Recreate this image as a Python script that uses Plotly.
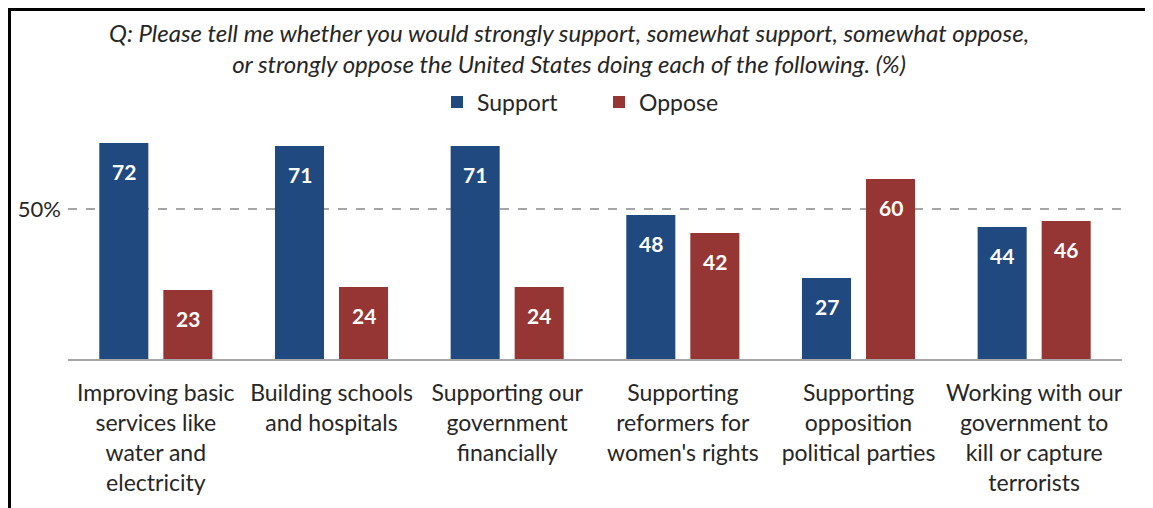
import plotly.graph_objects as go

categories = [
    "Improving basic<br>services like<br>water and<br>electricity",
    "Building schools<br>and hospitals",
    "Supporting our<br>government<br>financially",
    "Supporting<br>reformers for<br>women's rights",
    "Supporting<br>opposition<br>political parties",
    "Working with our<br>government to<br>kill or capture<br>terrorists",
]
support = [72, 71, 71, 48, 27, 44]
oppose = [23, 24, 24, 42, 60, 46]
series_names = ["Support", "Oppose"]
y_tick_vals = [50]
y_tick_text = ["50%"]
title_text = ("<i>Q: Please tell me whether you would strongly support, somewhat support, somewhat oppose,"
              "<br>or strongly oppose the United States doing each of the following. (%)</i>")

BLUE = "#204a7f"
RED = "#963634"
FONT = "Lato"
TXT = "#262626"

# The page keeps the browser's default 8px body margin, so the figure is 8px smaller
OFF = 8
W, H = 1153 - OFF, 508 - OFF
ML, MR, MT, MB = 68 - OFF, 31, 131 - OFF, 149
PW = W - ML - MR
PH = H - MT - MB

fig = go.Figure()
fig.add_trace(go.Bar(name=series_names[0], x=categories, y=support, marker_color=BLUE,
                     marker_line_width=0))
fig.add_trace(go.Bar(name=series_names[1], x=categories, y=oppose, marker_color=RED,
                     marker_line_width=0))


def px(xp):
    # page x -> paper x
    return (xp - OFF - ML) / PW


def py(yp):
    # page y -> paper y
    return (H - MB - (yp - OFF)) / PH


annotations = []
for vals, shift in ((support, -32), (oppose, 32)):
    for c, v in zip(categories, vals):
        annotations.append(dict(x=c, y=v, xref="x", yref="y", text=f"<b>{v}</b>",
                                showarrow=False, xshift=shift, yshift=-28,
                                font=dict(family=FONT, size=21, color="white")))

annotations.append(dict(text=title_text, xref="paper", yref="paper", x=px(569), y=py(48),
                        xanchor="center", yanchor="middle", showarrow=False, align="center",
                        font=dict(family=FONT, size=24, color=TXT)))

shapes = [
    dict(type="rect", xref="paper", yref="paper", x0=px(8), x1=px(11), y0=py(8), y1=py(520),
         fillcolor="black", line=dict(width=0), layer="above"),
    dict(type="rect", xref="paper", yref="paper", x0=px(8), x1=px(1165), y0=py(8), y1=py(11),
         fillcolor="black", line=dict(width=0), layer="above"),
]

fig.update_layout(
    width=W, height=H,
    margin=dict(l=ML, r=MR, t=MT, b=MB, pad=0),
    paper_bgcolor="white", plot_bgcolor="white",
    barmode="group", bargap=0.271, bargroupgap=0.234,
    font=dict(family=FONT, size=23, color=TXT),
    legend=dict(orientation="h", x=px(437), xanchor="left", y=py(102), yanchor="middle",
                font=dict(family=FONT, size=23, color=TXT), entrywidth=117,
                entrywidthmode="pixels", itemwidth=30, bgcolor="rgba(0,0,0,0)"),
    xaxis=dict(showline=True, linecolor="#a6a6a6", linewidth=1.5, ticks="", showgrid=False,
               automargin=False, tickfont=dict(family=FONT, size=23, color=TXT),
               ticklabelstandoff=13),
    yaxis=dict(range=[0, PH / 3.0], tickvals=y_tick_vals, ticktext=y_tick_text,
               showgrid=True, gridcolor="#a6a6a6", griddash="dash", gridwidth=1.5,
               zeroline=False, showline=False, ticks="", automargin=False,
               ticklabelstandoff=6,
               tickfont=dict(family=FONT, size=22, color=TXT)),
    annotations=annotations,
    shapes=shapes,
    showlegend=True,
)

fig.write_html("out.html", config={"displayModeBar": False})
